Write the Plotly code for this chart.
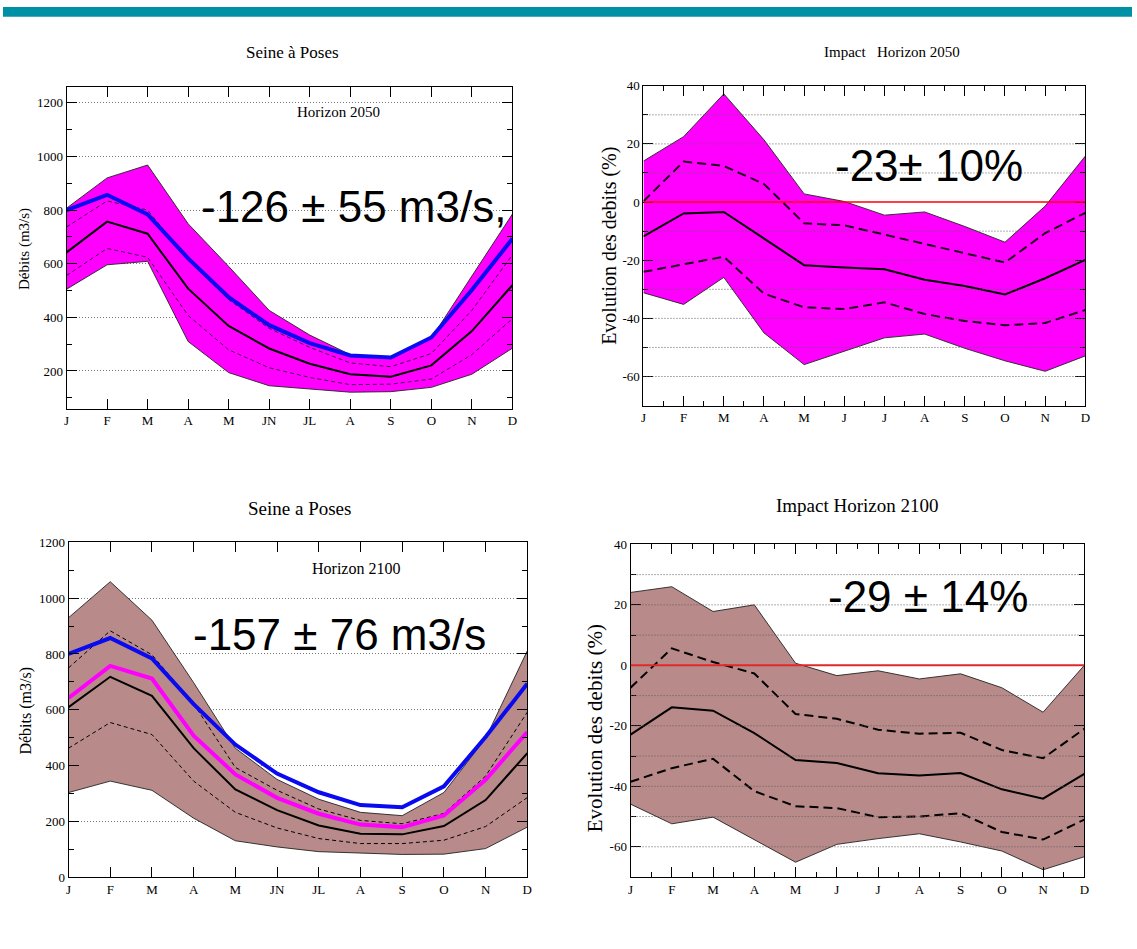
import plotly.graph_objects as go

# ---------------------------------------------------------------- data
months_flow = ["J", "F", "M", "A", "M", "JN", "JL", "A", "S", "O", "N", "D"]
months_impact = ["J", "F", "M", "A", "M", "J", "J", "A", "S", "O", "N", "D"]
month_pos = list(range(12))

# observed present-day regime (m3/s)
flow_obs = [800, 857, 784, 620, 475, 371, 304, 258, 250, 325, 502, 693]

# Horizon 2050 ensemble (m3/s)
flow_2050_median = [642, 757, 712, 507, 368, 284, 227, 188, 179, 221, 349, 520]
flow_2050_max = [807, 920, 968, 749, 590, 426, 334, 261, 249, 322, 554, 785]
flow_2050_min = [505, 596, 609, 310, 194, 145, 133, 121, 123, 139, 188, 285]
flow_2050_q_hi = [737, 834, 800, 615, 466, 359, 288, 230, 216, 265, 426, 633]
flow_2050_q_lo = [556, 657, 624, 407, 279, 212, 176, 149, 151, 170, 261, 395]

# Horizon 2100 ensemble (m3/s)
flow_2100_median = [609, 718, 650, 462, 314, 240, 185, 155, 153, 183, 276, 444]
flow_2100_max = [930, 1059, 921, 697, 462, 350, 279, 232, 220, 303, 497, 811]
flow_2100_min = [303, 344, 311, 211, 130, 108, 91, 87, 81, 82, 102, 179]
flow_2100_q_hi = [750, 883, 797, 621, 393, 311, 244, 203, 191, 228, 362, 591]
flow_2100_q_lo = [462, 554, 511, 344, 232, 176, 138, 120, 120, 132, 181, 285]

# relative change (%) Horizon 2050
impact_2050_median = [-11.8, -3.9, -3.4, -12.7, -21.7, -22.5, -23.1, -26.7, -28.9, -31.8, -26.2, -19.9]
impact_2050_max = [14.1, 22.5, 37.2, 21.4, 2.8, 0.2, -4.5, -3.4, -8.4, -13.8, -1.4, 15.8]
impact_2050_min = [-31.2, -35.2, -25.9, -45.0, -55.9, -51.2, -46.7, -45.4, -50.3, -54.6, -58.2, -52.9]
impact_2050_q_hi = [0.3, 13.9, 12.4, 6.2, -7.3, -8.0, -11.2, -14.4, -17.4, -20.8, -10.7, -3.7]
impact_2050_q_lo = [-24.0, -21.4, -18.8, -31.5, -36.2, -36.8, -34.5, -38.5, -40.9, -42.4, -41.6, -37.1]

# relative change (%) Horizon 2100
impact_2100_median = [-22.9, -13.9, -15.0, -22.4, -31.3, -32.3, -35.7, -36.4, -35.6, -41.0, -44.1, -35.9]
impact_2100_max = [24.1, 26.0, 17.8, 20.0, 0.7, -3.4, -1.8, -4.5, -2.8, -7.4, -15.5, 0.0]
impact_2100_min = [-45.9, -52.4, -50.2, -57.6, -65.1, -59.2, -57.3, -55.7, -58.4, -61.4, -67.6, -63.3]
impact_2100_q_hi = [-7.4, 5.6, 1.1, -2.7, -16.1, -17.7, -21.3, -22.6, -22.3, -28.0, -30.7, -21.0]
impact_2100_q_lo = [-38.5, -34.0, -30.9, -41.6, -46.6, -47.2, -50.2, -50.0, -48.9, -55.1, -57.6, -51.0]

flow_ticks = [0, 200, 400, 600, 800, 1000, 1200]
flow_ticktext = ["0", "200", "400", "600", "800", "1000", "1200"]
impact_ticks = [-60, -40, -20, 0, 20, 40]
impact_ticktext = ["-60", "-40", "-20", "0", "20", "40"]
impact_grid = [-60, -50, -40, -30, -20, -10, 10, 20, 30]

# ---------------------------------------------------------------- page geometry
W, H = 1137, 949
SERIF = "Liberation Serif, Times New Roman, serif"
SANS = "Liberation Sans, Arial, sans-serif"
MAGENTA = "#FF00FF"
BROWN = "#B88A89"
BLUE = "#0A0AF0"
DOTS = "1px,2px"


def px(x):
    return x / W


def py(y):
    return 1 - y / H


panels = {
    1: dict(x0=64, x1=513, y0=81, y1=408),
    2: dict(x0=645, x1=1090, y0=80, y1=405),
    3: dict(x0=66, x1=528, y0=544, y1=884),
    4: dict(x0=632, x1=1089, y0=546, y1=884),
}

fig = go.Figure()


def ax_names(i):
    return ("x" if i == 1 else f"x{i}"), ("y" if i == 1 else f"y{i}")


def line(i, y, color="black", width=1.0, dash="solid"):
    xa, ya = ax_names(i)
    fig.add_trace(go.Scatter(x=month_pos, y=y, xaxis=xa, yaxis=ya, mode="lines",
                             line=dict(color=color, width=width, dash=dash),
                             hoverinfo="skip", showlegend=False))


def band(i, upper, lower, fill):
    xa, ya = ax_names(i)
    fig.add_trace(go.Scatter(x=month_pos, y=upper, xaxis=xa, yaxis=ya, mode="lines",
                             line=dict(color="#222", width=0.9),
                             hoverinfo="skip", showlegend=False))
    fig.add_trace(go.Scatter(x=month_pos, y=lower, xaxis=xa, yaxis=ya, mode="lines",
                             fill="tonexty", fillcolor=fill,
                             line=dict(color="#222", width=0.9),
                             hoverinfo="skip", showlegend=False))


# panel 1 : Seine a Poses, Horizon 2050
band(1, flow_2050_max, flow_2050_min, MAGENTA)
line(1, flow_2050_q_hi, "#3a1040", 1.0, "4px,3px")
line(1, flow_2050_q_lo, "#3a1040", 1.0, "4px,3px")
line(1, flow_2050_median, "black", 2.0)
line(1, flow_obs, BLUE, 4.0)

# panel 2 : impact 2050
band(2, impact_2050_max, impact_2050_min, MAGENTA)
line(2, impact_2050_q_hi, "#200020", 2.0, "9px,5px")
line(2, impact_2050_q_lo, "#200020", 2.0, "9px,5px")
line(2, impact_2050_median, "black", 2.0)

# panel 3 : Seine a Poses, Horizon 2100
band(3, flow_2100_max, flow_2100_min, BROWN)
line(3, flow_2100_q_hi, "black", 1.0, "4px,3px")
line(3, flow_2100_q_lo, "black", 1.0, "4px,3px")
line(3, flow_2100_median, "black", 2.0)
line(3, flow_2050_median, MAGENTA, 4.0)
line(3, flow_obs, BLUE, 4.0)

# panel 4 : impact 2100
band(4, impact_2100_max, impact_2100_min, BROWN)
line(4, impact_2100_q_hi, "black", 2.0, "9px,5px")
line(4, impact_2100_q_lo, "black", 2.0, "9px,5px")
line(4, impact_2100_median, "black", 2.0)

# ---------------------------------------------------------------- axes
tickfont = dict(family=SERIF, size=13, color="black")
layout_axes = {}
for i, p in panels.items():
    xk = "xaxis" if i == 1 else f"xaxis{i}"
    yk = "yaxis" if i == 1 else f"yaxis{i}"
    xa, ya = ax_names(i)
    impact = i in (2, 4)
    xaxis = dict(
        domain=[px(p["x0"]), px(p["x1"])], anchor=ya, range=[0, 11],
        tickmode="array", tickvals=month_pos,
        ticktext=months_impact if impact else months_flow,
        ticks="inside", ticklen=10, tickwidth=1, tickcolor="black",
        showline=True, linecolor="black", linewidth=1, mirror="allticks",
        showgrid=False, zeroline=False, tickfont=tickfont, fixedrange=True,
        layer="above traces",
    )
    if impact:
        xaxis["minor"] = dict(ticks="inside", ticklen=5, tickcolor="black",
                              dtick=0.5, tick0=0, showgrid=False)
    if impact:
        yaxis = dict(
            domain=[py(p["y1"]), py(p["y0"])], anchor=xa, range=[-70, 40],
            tickmode="array", tickvals=impact_ticks, ticktext=impact_ticktext,
            minor=dict(ticks="inside", ticklen=5, tickcolor="black", dtick=10,
                       tick0=0, showgrid=False),
            showgrid=False,
        )
    else:
        yaxis = dict(
            domain=[py(p["y1"]), py(p["y0"])], anchor=xa,
            range=[60, 1260] if i == 1 else [0, 1200],
            tickmode="array", tickvals=flow_ticks, ticktext=flow_ticktext,
            minor=dict(ticks="inside", ticklen=5, tickcolor="black", dtick=100,
                       tick0=0, showgrid=False),
            showgrid=True, gridcolor="#7a7a7a", gridwidth=1, griddash=DOTS,
        )
    yaxis.update(ticks="inside", ticklen=10, tickwidth=1, tickcolor="black",
                 showline=True, linecolor="black", linewidth=1, mirror="allticks",
                 zeroline=False, tickfont=tickfont, fixedrange=True,
                 layer="above traces")
    layout_axes[xk] = xaxis
    layout_axes[yk] = yaxis

# dotted grid over the envelopes and zero reference of the impact panels
shapes = []
for i in (2, 4):
    xa, ya = ax_names(i)
    for g in impact_grid:
        shapes.append(dict(type="line", xref=xa, yref=ya, x0=0, x1=11, y0=g, y1=g,
                           layer="above", line=dict(color="#5e5e5e", width=1, dash=DOTS)))
    shapes.append(dict(type="line", xref=xa, yref=ya, x0=0, x1=11, y0=0, y1=0,
                       layer="above",
                       line=dict(color="#FF0000" if i == 2 else "#E0282A",
                                 width=1.5 if i == 2 else 2)))

# banner across the top of the page
shapes.append(dict(type="rect", xref="paper", yref="paper", x0=0, x1=1,
                   y0=py(10), y1=1, fillcolor="#0090A6", line=dict(width=0),
                   layer="above"))


def note(text, x, y, size, family=SERIF, angle=0):
    return dict(text=text, x=px(x), y=py(y), xref="paper", yref="paper",
                showarrow=False, xanchor="center", yanchor="middle",
                textangle=angle, font=dict(family=family, size=size, color="black"))


annotations = [
    note("Seine à Poses", 292, 46, 17),
    note("Impact   Horizon 2050", 895, 46, 15),
    note("Seine a Poses", 299, 510, 19),
    note("Impact Horizon 2100", 861, 507, 19),
    note("Horizon 2050", 338, 107, 15),
    note("Horizon 2100", 356, 571, 16),
    note("Débits (m3/s)", 21, 246, 15, angle=-90),
    note("Débits (m3/s)", 23, 715, 16, angle=-90),
    note("Evolution des debits (%)", 610, 243, 20, angle=-90),
    note("Evolution des debits (%)", 597, 733, 21, angle=-90),
    note("-126 ± 55 m3/s,", 353, 203, 44, family=SANS),
    note("-23± 10%", 933, 161, 44, family=SANS),
    note("-157 ± 76 m3/s", 339, 638, 44, family=SANS),
    note("-29 ± 14%", 932, 599, 44, family=SANS),
]

fig.update_layout(
    width=W, height=H, margin=dict(l=0, r=0, t=0, b=0),
    paper_bgcolor="white", plot_bgcolor="white",
    showlegend=False, shapes=shapes, annotations=annotations,
    **layout_axes,
)

fig.write_html("out.html", config=dict(displayModeBar=False))
